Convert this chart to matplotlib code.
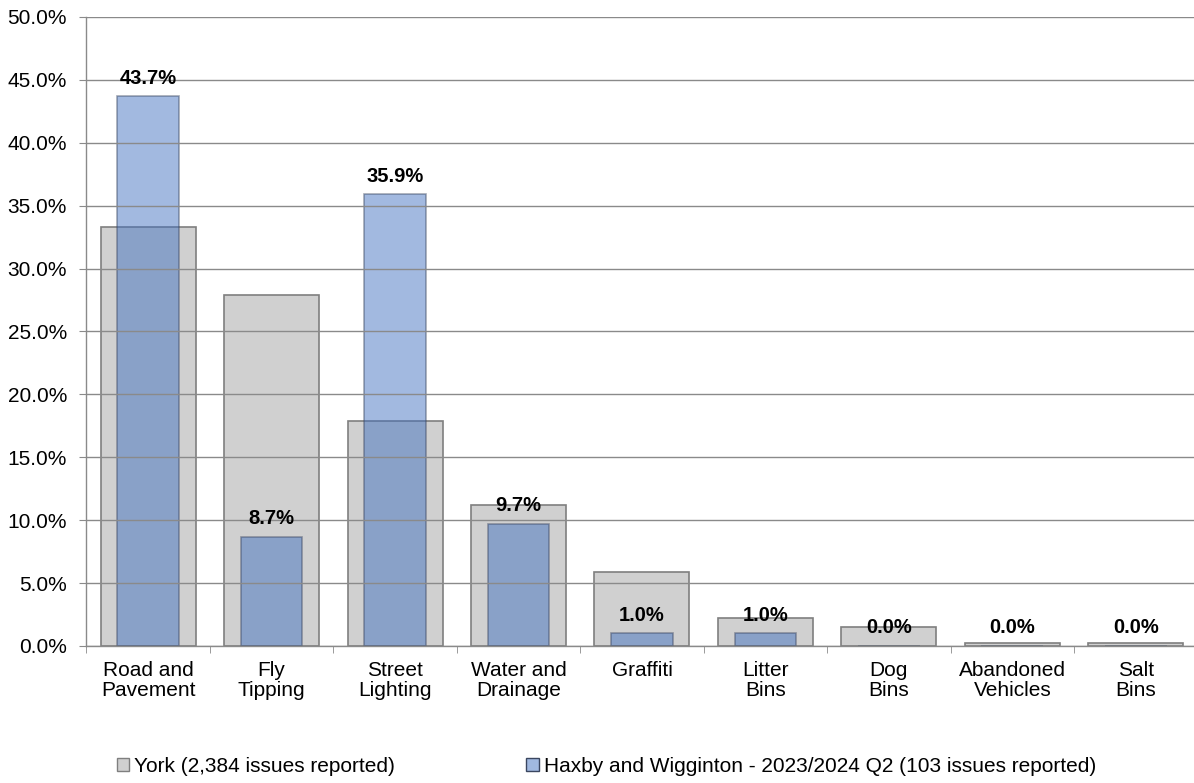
import matplotlib
matplotlib.use("Agg")
import matplotlib.pyplot as plt
from matplotlib.patches import Patch
import numpy as np

plt.rcParams['font.family'] = ['Liberation Sans', 'DejaVu Sans']

categories = ["Road and\nPavement", "Fly\nTipping", "Street\nLighting", "Water and\nDrainage",
              "Graffiti", "Litter\nBins", "Dog\nBins", "Abandoned\nVehicles", "Salt\nBins"]
york = [33.3, 27.9, 17.9, 11.2, 5.9, 2.2, 1.5, 0.2, 0.2]
haxby = [43.7, 8.7, 35.9, 9.7, 1.0, 1.0, 0.0, 0.0, 0.0]

york_label = "York (2,384 issues reported)"
haxby_label = "Haxby and Wigginton - 2023/2024 Q2 (103 issues reported)"

fig = plt.figure(figsize=(11.94, 7.83), dpi=100)
# plot area runs a few pixels past the right edge, like the original export
ax = fig.add_axes([0.0724, 0.175, 0.9305, 0.8033])

x = np.arange(len(categories))
ax.bar(x, york, width=0.77, color="#d0d0d0", edgecolor="#7f7f7f", linewidth=1.2, zorder=1)
ax.bar(x, haxby, width=0.5, color="#3d6ec0", alpha=0.48, edgecolor="#3a4660", linewidth=1.2, zorder=2)

for xi, v in zip(x, haxby):
    ax.text(xi, v + 1.0, f"{v:.1f}%", ha="center", va="baseline", fontsize=14.5,
            fontweight="bold", zorder=4)

ax.set_ylim(0, 50)
ax.set_xlim(-0.5, len(categories) - 0.5)
yt = np.arange(0, 50.1, 5)
ax.set_yticks(yt)
ax.set_yticklabels([f"{t:.1f}%" for t in yt], fontsize=15)
ax.yaxis.grid(True, color="#8a8a8a", linewidth=1.0, zorder=3)
ax.set_axisbelow(False)

ax.set_xticks(x)
ax.set_xticklabels(categories, fontsize=15, linespacing=1.05)
ax.tick_params(axis="x", length=0, pad=11)
ax.set_xticks(np.arange(-0.5, len(categories)), minor=True)
ax.tick_params(axis="x", which="minor", length=5, color="#8a8a8a")
ax.tick_params(axis="y", length=5, color="#8a8a8a", pad=9)

for s in ["top", "right"]:
    ax.spines[s].set_visible(False)
for s in ["left", "bottom"]:
    ax.spines[s].set_color("#8a8a8a")
    ax.spines[s].set_linewidth(1.0)

handles = [Patch(facecolor="#d0d0d0", edgecolor="#7f7f7f"),
           Patch(facecolor="#a0b8e0", edgecolor="#3a4660")]
fig.legend(handles, [york_label, haxby_label], loc="center", bbox_to_anchor=(0.508, 0.021),
           ncol=2, frameon=False, fontsize=15, handlelength=0.6, handleheight=0.6,
           handletextpad=0.25, columnspacing=6.3, borderpad=0, borderaxespad=0)

fig.savefig("out.png", dpi=100)
